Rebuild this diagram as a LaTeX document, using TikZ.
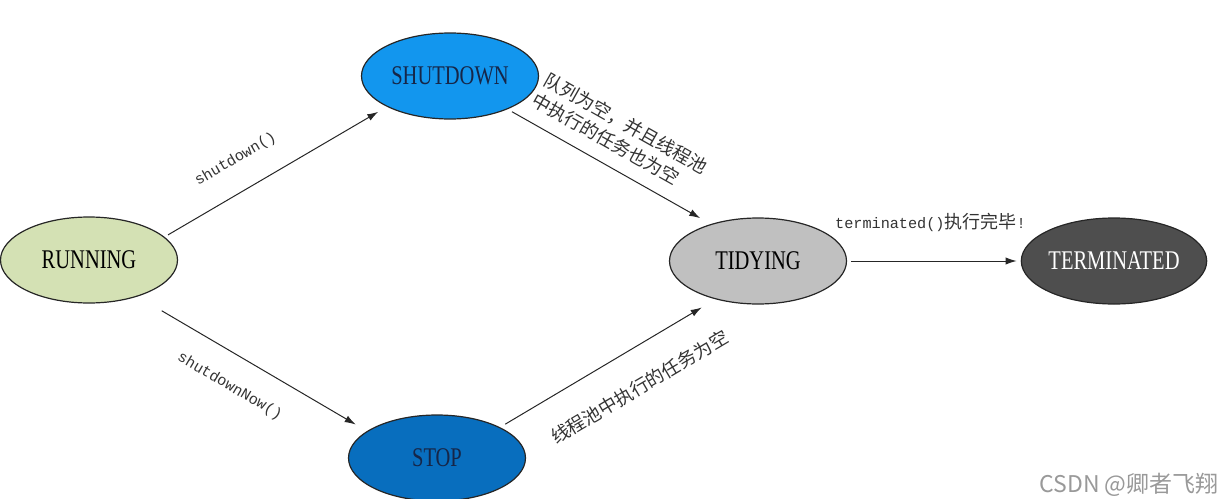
\documentclass[tikz,border=0pt]{standalone}
\usepackage{fontspec}
\setmainfont{Liberation Serif}
\newfontfamily\statefont[FakeStretch=0.76]{Liberation Serif}
\newfontfamily\codefont{Liberation Mono}
\newfontfamily\cjk{Noto Sans CJK SC}
\usetikzlibrary{arrows.meta, shapes.geometric}

\definecolor{runfill}{RGB}{212,225,180}
\definecolor{shutfill}{RGB}{18,150,238}
\definecolor{stopfill}{RGB}{8,110,190}
\definecolor{tidyfill}{RGB}{192,192,192}
\definecolor{termfill}{RGB}{78,78,78}
\definecolor{navytext}{RGB}{22,38,72}

\begin{document}
\begin{tikzpicture}[
  x=0.5pt, y=-0.5pt,
  stage/.style={draw=black!85, ellipse, line width=0.6pt, inner sep=0pt, minimum width=88.5pt, minimum height=43pt, font=\statefont\fontsize{13.5}{16}\selectfont},
  arrow/.style={-{Latex[length=5.5pt,width=3.6pt]}, line width=0.5pt, black!85},
  codelbl/.style={font=\codefont\fontsize{7.6}{9}\selectfont, text=black!80},
  cjklbl/.style={font=\cjk\fontsize{9.2}{11.5}\selectfont, text=black!80, align=left}
]
\useasboundingbox (0,0) rectangle (1226,498);

% states
\node[stage, fill=runfill] (running) at (89,260) {RUNNING};
\node[stage, fill=shutfill, text=navytext] (shutdown) at (450,76) {SHUTDOWN};
\node[stage, fill=stopfill, text=navytext] (stop) at (437,458) {STOP};
\node[stage, fill=tidyfill] (tidying) at (758,261) {TIDYING};
\node[stage, fill=termfill, text=white] (terminated) at (1114,261) {TERMINATED};

% transitions
\draw[arrow, shorten <=2pt, shorten >=5pt] (running.17) -- node[codelbl, sloped, above=8.4pt, pos=0.39] (lshut) {shutdown()} (shutdown.206);
\draw[arrow, shorten <=14pt, shorten >=6.5pt] (running.-37.5) -- node[codelbl, sloped, below=8.3pt, pos=0.47] (lnow) {shutdownNow()} (stop.159);
\draw[arrow, shorten <=2.5pt, shorten >=6pt] (shutdown.-30) -- node[cjklbl, sloped, above=3.5pt, pos=0.47] (lempty) {队列为空，并且线程池\\中执行的任务也为空} (tidying.142);
\draw[arrow, shorten <=3pt, shorten >=8pt] (stop.26) -- node[cjklbl, sloped, below=10.5pt, pos=0.56] (lpool) {线程池中执行的任务为空} (tidying.222);
\draw[arrow, shorten <=2pt, shorten >=2pt] (tidying.east) -- node[above=11pt, pos=0.48, text=black!80] (ldone) {{\codefont\fontsize{7.6}{9}\selectfont terminated()}{\cjk\fontsize{9}{11}\selectfont 执行完毕}{\codefont\fontsize{7.6}{9}\selectfont !}} (terminated.west);

% watermark
\node[font=\cjk\fontsize{11.5}{13}\selectfont, text=black!40] (mark) at (1129,485) {CSDN @卿者飞翔};
\end{tikzpicture}
\end{document}
